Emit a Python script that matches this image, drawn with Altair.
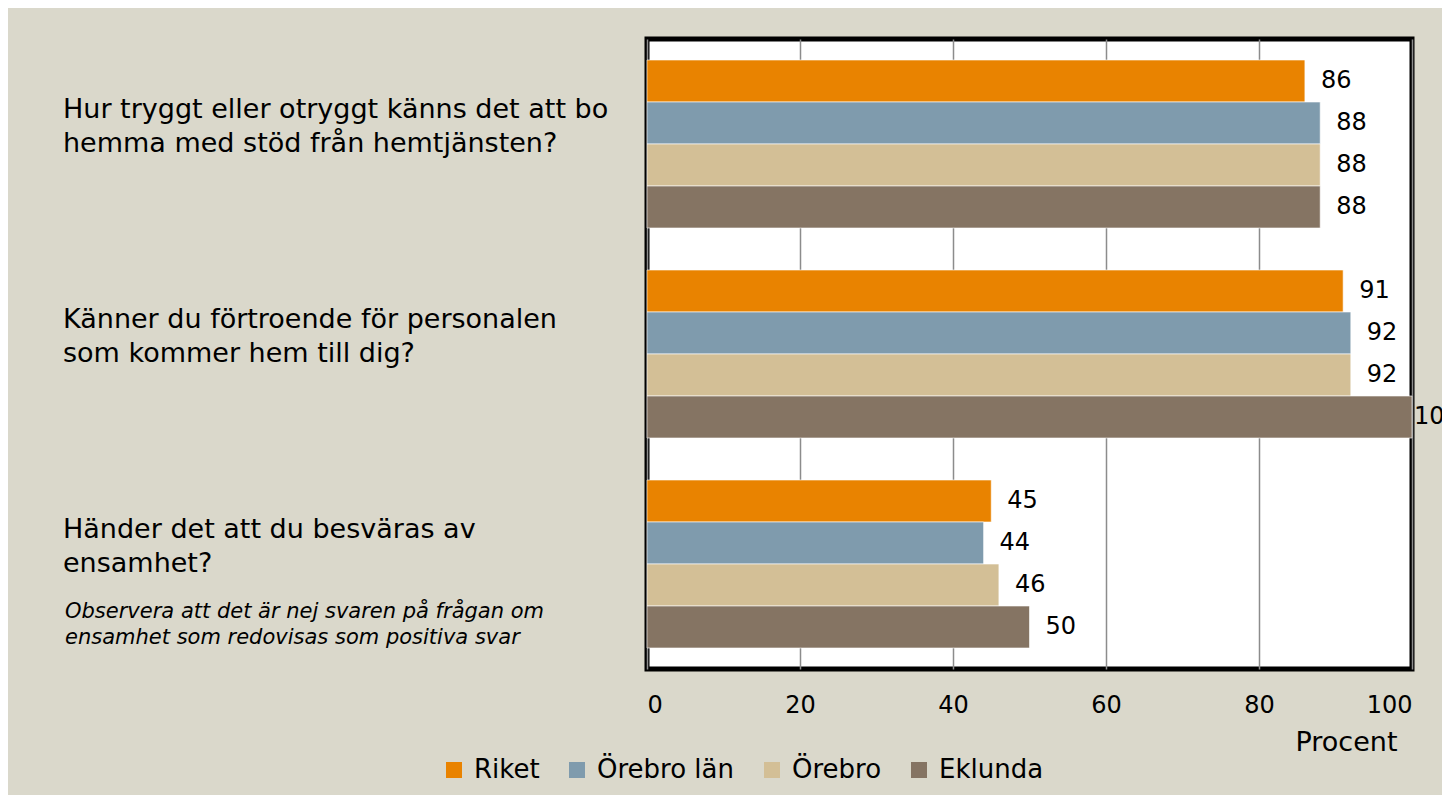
import altair as alt
import pandas as pd

question_ids = ["q1", "q2", "q3"]
question_texts = [
    "Hur tryggt eller otryggt känns det att bo\nhemma med stöd från hemtjänsten?",
    "Känner du förtroende för personalen\nsom kommer hem till dig?",
    "Händer det att du besväras av\nensamhet?",
]
series = ["Riket", "Örebro län", "Örebro", "Eklunda"]
riket = [86, 91, 45]
orebro_lan = [88, 92, 44]
orebro = [88, 92, 46]
eklunda = [88, 100, 50]
colors = ["#E98300", "#7F9BAD", "#D3BF96", "#857463"]
note_text = "Observera att det är nej svaren på frågan om\nensamhet som redovisas som positiva svar"
x_ticks = [0, 20, 40, 60, 80, 100]

rows = []
for s, vals in zip(series, [riket, orebro_lan, orebro, eklunda]):
    for q, v in zip(question_ids, vals):
        rows.append({"question": q, "series": s, "value": v})
df = pd.DataFrame(rows)
qdf = pd.DataFrame({"question": question_ids, "label": question_texts})
ndf = pd.DataFrame({"question": ["q3"], "label": [note_text]})

font = "DejaVu Sans"

y_enc = alt.Y("question:N", sort=question_ids, axis=None,
              scale=alt.Scale(domain=question_ids, paddingInner=0.2, paddingOuter=0.1))
yoff_enc = alt.YOffset("series:N", sort=series,
                       scale=alt.Scale(domain=series, paddingInner=0, paddingOuter=0))
x_enc = alt.X("value:Q",
              scale=alt.Scale(domain=[0, 100], nice=False, zero=True),
              axis=alt.Axis(values=x_ticks, grid=True, gridColor="#8c8c8c", gridWidth=1.5,
                            domain=False, ticks=False, labelFontSize=24, labelPadding=24,
                            labelColor="#000000", labelFont=font,
                            title="Procent", titleFontSize=27, titleFontWeight="normal",
                            titleFont=font, titleColor="#000000",
                            titleX=750, titleY=73, titleAlign="right", titleBaseline="middle"))

bars = alt.Chart(df).mark_bar(stroke="#ffffff", strokeWidth=0.6).encode(
    x=x_enc,
    y=y_enc,
    yOffset=yoff_enc,
    color=alt.Color("series:N", sort=series,
                    scale=alt.Scale(domain=series, range=colors),
                    legend=alt.Legend(orient="none", legendX=-206, legendY=718,
                                      direction="horizontal", title=None,
                                      symbolType="square", symbolSize=256,
                                      symbolStrokeWidth=0, symbolOpacity=1,
                                      labelFontSize=26, labelFont=font, labelColor="#000000",
                                      columnPadding=24, labelOffset=7)),
)

value_labels = alt.Chart(df).transform_filter("datum.value < 100").mark_text(
    align="left", baseline="middle", dx=16,
    fontSize=24, font=font, color="#000000").encode(
    x="value:Q",
    y=y_enc,
    yOffset=yoff_enc,
    text="value:Q",
)

full_labels = alt.Chart(df).transform_filter("datum.value >= 100").mark_text(
    align="left", baseline="middle", dx=2,
    fontSize=24, font=font, color="#000000").encode(
    x="value:Q",
    y=y_enc,
    yOffset=yoff_enc,
    text="value:Q",
)

q_labels = alt.Chart(qdf).mark_text(align="left", baseline="middle", dy=-34,
                                     fontSize=27, font=font, color="#000000",
                                     lineBreak="\n", lineHeight=34).encode(
    x=alt.value(-584),
    y=y_enc,
    text="label:N",
)

note = alt.Chart(ndf).mark_text(align="left", baseline="middle", dy=48,
                                 fontSize=21, font=font, fontStyle="italic",
                                 color="#000000", lineBreak="\n", lineHeight=26).encode(
    x=alt.value(-582),
    y=y_enc,
    text="label:N",
)

chart = alt.layer(bars, value_labels, full_labels, q_labels, note).properties(
    width=765,
    height=630,
    padding={"left": 639, "top": 31, "right": 30, "bottom": 126},
    autosize=alt.AutoSizeParams(type="none"),
    background="#DAD8CB",
).configure(font=font).configure_view(
    stroke="#000000", strokeWidth=5, fill="#ffffff"
)

chart.save("out.html", embed_options={"renderer": "svg", "actions": False})
